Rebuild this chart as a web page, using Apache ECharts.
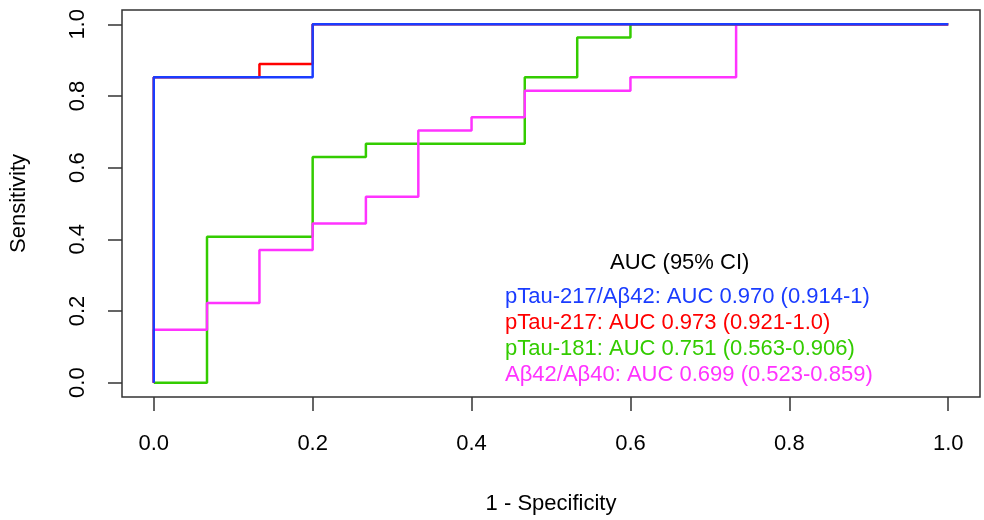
<!DOCTYPE html>
<html>
<head>
<meta charset="utf-8">
<script src="https://cdn.jsdelivr.net/npm/echarts@6/dist/echarts.min.js"></script>
<style>
html,body{margin:0;padding:0;background:#fff;}
#chart{width:984px;height:520px;}
</style>
</head>
<body>
<div id="chart"></div>
<script>
// ROC vertices (1 - specificity, sensitivity)
const blueFpr  = [0, 0, 0.2, 0.2, 1];
const blueTpr  = [0, 0.852, 0.852, 1, 1];
const redFpr   = [0, 0, 0.133, 0.133, 0.2, 0.2, 1];
const redTpr   = [0, 0.852, 0.852, 0.889, 0.889, 1, 1];
const greenFpr = [0, 0.067, 0.067, 0.2, 0.2, 0.267, 0.267, 0.467, 0.467, 0.533, 0.533, 0.6, 0.6, 1];
const greenTpr = [0, 0, 0.407, 0.407, 0.630, 0.630, 0.667, 0.667, 0.852, 0.852, 0.963, 0.963, 1, 1];
const magFpr   = [0, 0, 0.067, 0.067, 0.133, 0.133, 0.2, 0.2, 0.267, 0.267, 0.333, 0.333, 0.4, 0.4, 0.467, 0.467, 0.6, 0.6, 0.733, 0.733, 1];
const magTpr   = [0, 0.148, 0.148, 0.222, 0.222, 0.370, 0.370, 0.444, 0.444, 0.519, 0.519, 0.704, 0.704, 0.741, 0.741, 0.815, 0.815, 0.852, 0.852, 1, 1];

const seriesNames = [
  "pTau-217/A\u03b242: AUC 0.970 (0.914-1)",
  "pTau-217: AUC 0.973 (0.921-1.0)",
  "pTau-181: AUC 0.751 (0.563-0.906)",
  "A\u03b242/A\u03b240: AUC 0.699 (0.523-0.859)"
];
const legendTitle = "AUC (95% CI)";
const xTicks = [0, 0.2, 0.4, 0.6, 0.8, 1.0];
const yTicks = [0, 0.2, 0.4, 0.6, 0.8, 1.0];
const xTitle = "1 - Specificity";
const yTitle = "Sensitivity";

const colors = ["#1a3cff", "#ff0000", "#33cc00", "#ff33ff"];
const FONT = "'Liberation Sans', Arial, sans-serif";

function pairs(xs, ys) { return xs.map((x, i) => [x, ys[i]]); }

const curves = [
  {name: seriesNames[2], data: pairs(greenFpr, greenTpr), color: colors[2], z: 2},
  {name: seriesNames[3], data: pairs(magFpr, magTpr), color: colors[3], z: 3},
  {name: seriesNames[1], data: pairs(redFpr, redTpr), color: colors[1], z: 4},
  {name: seriesNames[0], data: pairs(blueFpr, blueTpr), color: colors[0], z: 5}
];

const chart = echarts.init(document.getElementById('chart'), null, {renderer: 'canvas'});
const axisCommon = {
  type: 'value',
  min: -0.04, max: 1.04,
  splitLine: {show: false},
  axisLine: {show: false, onZero: false},
  nameLocation: 'middle',
  nameTextStyle: {fontFamily: FONT, fontSize: 22, color: '#000'}
};
chart.setOption({
  animation: false,
  backgroundColor: '#fff',
  grid: {left: 122, right: 4, top: 10, bottom: 119, show: true, borderColor: '#333', borderWidth: 1.5, backgroundColor: 'transparent'},
  xAxis: Object.assign({}, axisCommon, {
    name: xTitle, nameGap: 96,
    axisTick: {show: true, inside: false, length: 14, customValues: xTicks, lineStyle: {color: '#333', width: 1.5}},
    axisLabel: {customValues: xTicks, formatter: v => v.toFixed(1), margin: 36, fontFamily: FONT, fontSize: 22, color: '#000'}
  }),
  yAxis: Object.assign({}, axisCommon, {
    name: yTitle, nameGap: 92,
    axisTick: {show: true, inside: false, length: 14, customValues: yTicks, lineStyle: {color: '#333', width: 1.5}},
    axisLabel: {customValues: yTicks, formatter: v => v.toFixed(1), rotate: 90, margin: 33, fontFamily: FONT, fontSize: 22, color: '#000'}
  }),
  legend: {
    orient: 'vertical', left: 500, top: 286, icon: 'none', itemWidth: 0, itemHeight: 0, itemGap: 4,
    selectedMode: false, padding: 0,
    data: seriesNames.map((n, i) => ({name: n, textStyle: {color: colors[i]}})),
    textStyle: {fontFamily: FONT, fontSize: 22, padding: 0}
  },
  graphic: [{
    type: 'text', left: 610, top: 252,
    style: {text: legendTitle, font: "22px 'Liberation Sans', Arial, sans-serif", fill: '#000'}
  }],
  series: curves.map(c => ({
    type: 'line', name: c.name, data: c.data, showSymbol: false, symbol: 'none', z: c.z,
    lineStyle: {color: c.color, width: 2.5}, itemStyle: {color: c.color}, silent: true
  }))
});
</script>
</body>
</html>
